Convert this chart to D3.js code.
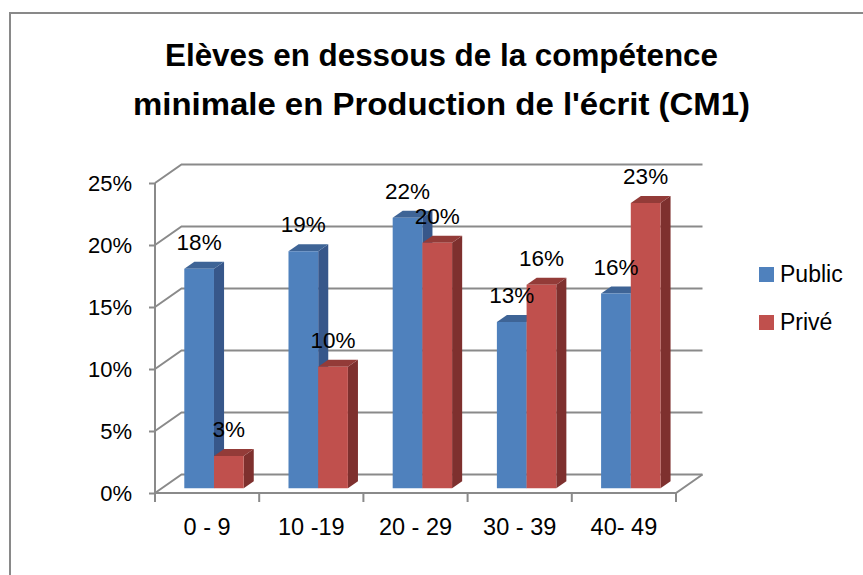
<!DOCTYPE html>
<html>
<head>
<meta charset="utf-8">
<script src="https://cdn.jsdelivr.net/npm/d3@7"></script>
<style>
  body { margin: 0; background: #fff; }
  text { font-family: "Liberation Sans", Arial, sans-serif; fill: #000; }
  .title { font-family: "Liberation Sans Narrow", "Liberation Sans", Arial, sans-serif; font-weight: bold; font-size: 31px; }
</style>
</head>
<body>
<div id="chart"></div>
<script>
// data
const categories = ["0 - 9", "10 -19", "20 - 29", "30 - 39", "40- 49"];
const series = ["Public", "Privé"];
const publicValues = [0.177, 0.191, 0.218, 0.134, 0.157];
const priveValues = [0.026, 0.098, 0.198, 0.164, 0.230];
const yTicks = [0, 0.05, 0.10, 0.15, 0.20, 0.25];
const titleLines = ["Elèves en dessous de la compétence", "minimale en Production de l'écrit (CM1)"];

const width = 863, height = 575;
const colors = {
  Public: {front: "#4f81bd", side: "#37578a", top: "#3e6496"},
  "Privé": {front: "#c0504d", side: "#7e302e", top: "#933b38"}
};

const svg = d3.select("#chart").append("svg")
  .attr("width", width)
  .attr("height", height);

// outer frame (cut off at right and bottom)
svg.append("rect")
  .attr("x", 10).attr("y", 13)
  .attr("width", 900).attr("height", 600)
  .attr("fill", "none")
  .attr("stroke", "#898989")
  .attr("stroke-width", 2);

// title
svg.selectAll("text.title")
  .data(titleLines)
  .join("text")
  .attr("class", "title")
  .attr("x", 441.5)
  .attr("y", (d, i) => 66 + i * 49)
  .attr("text-anchor", "middle")
  .attr("textLength", (d, i) => i === 0 ? 553 : 617)
  .attr("lengthAdjust", "spacingAndGlyphs")
  .text(d => d);

// scales (front plane)
const x0 = d3.scaleBand().domain(categories).range([155, 676]);
const pad = 22.4;
const x1 = d3.scaleBand().domain(series).range([pad, x0.bandwidth() - pad]);
const y = d3.scaleLinear().domain([0, 0.25]).range([493, 183]);

// depth projection
const DX = 26.5, DY = 18.5;
const proj = (xf, v, z) => [xf + z * DX, y(v) - z * DY];
const pts = arr => arr.map(p => p.join(",")).join(" ");

const grid = svg.append("g")
  .attr("stroke", "#8a8a8a")
  .attr("stroke-width", 2)
  .attr("fill", "none");

// back wall gridlines + left wall diagonals
yTicks.forEach(t => {
  grid.append("polyline").attr("points", pts([proj(155, t, 0), proj(155, t, 1), proj(676, t, 1)]));
});

// floor front edge and right edge
grid.append("polyline")
  .attr("points", pts([proj(155, 0, 0), proj(676, 0, 0), proj(676, 0, 1)]));

// category boundary ticks
categories.concat(["end"]).forEach((c, i) => {
  const xx = i < categories.length ? x0(c) : x0.range()[1];
  grid.append("line")
    .attr("x1", xx).attr("x2", xx)
    .attr("y1", y(0)).attr("y2", y(0) + 9);
});

// y axis (front)
const yAxis = d3.axisLeft(y)
  .tickValues(yTicks)
  .tickFormat(d3.format(".0%"))
  .tickSizeInner(6)
  .tickSizeOuter(0)
  .tickPadding(17);

const yG = svg.append("g")
  .attr("transform", "translate(155,0)")
  .call(yAxis);
yG.select(".domain").remove();
yG.selectAll(".tick line").attr("stroke", "#8a8a8a").attr("stroke-width", 2);
yG.selectAll(".tick text")
  .attr("font-size", 22)
  .attr("font-family", "Liberation Sans, Arial, sans-serif")
  .attr("dy", "0.36em");
svg.append("line")
  .attr("x1", 155).attr("x2", 155)
  .attr("y1", y(0.25)).attr("y2", y(0) + 8)
  .attr("stroke", "#8a8a8a").attr("stroke-width", 2);

// category labels
svg.selectAll("text.cat")
  .data(categories)
  .join("text")
  .attr("class", "cat")
  .attr("x", d => x0(d) + x0.bandwidth() / 2)
  .attr("y", 535)
  .attr("text-anchor", "middle")
  .attr("font-size", 23.5)
  .text(d => d);

// bars
const z0 = 0.26, z1 = 0.64;
const rows = [];
categories.forEach((c, i) => {
  rows.push({cat: c, s: "Public", v: publicValues[i]});
  rows.push({cat: c, s: "Privé", v: priveValues[i]});
});

const bars = svg.append("g");
rows.forEach(d => {
  const xa = x0(d.cat) + x1(d.s), xb = xa + x1.bandwidth();
  const g = bars.append("g");
  g.append("polygon")
    .attr("points", pts([proj(xb, 0, z0), proj(xb, 0, z1), proj(xb, d.v, z1), proj(xb, d.v, z0)]))
    .attr("fill", colors[d.s].side);
  g.append("polygon")
    .attr("points", pts([proj(xa, d.v, z0), proj(xb, d.v, z0), proj(xb, d.v, z1), proj(xa, d.v, z1)]))
    .attr("fill", colors[d.s].top);
  g.append("polygon")
    .attr("points", pts([proj(xa, 0, z0), proj(xb, 0, z0), proj(xb, d.v, z0), proj(xa, d.v, z0)]))
    .attr("fill", colors[d.s].front);
});

// data labels
svg.selectAll("text.lbl")
  .data(rows)
  .join("text")
  .attr("class", "lbl")
  .attr("x", d => proj(x0(d.cat) + x1(d.s) + x1.bandwidth() / 2, d.v, z0)[0])
  .attr("y", d => proj(0, d.v, z0)[1] - 19)
  .attr("text-anchor", "middle")
  .attr("font-size", 22.5)
  .text(d => d3.format(".0%")(d.v));

// legend
const legend = svg.append("g");
series.forEach((s, i) => {
  legend.append("rect")
    .attr("x", 759).attr("y", 267 + i * 48)
    .attr("width", 15).attr("height", 15)
    .attr("fill", colors[s].front);
  legend.append("text")
    .attr("x", 780).attr("y", 282 + i * 48)
    .attr("font-size", 23)
    .text(s);
});
</script>
</body>
</html>
